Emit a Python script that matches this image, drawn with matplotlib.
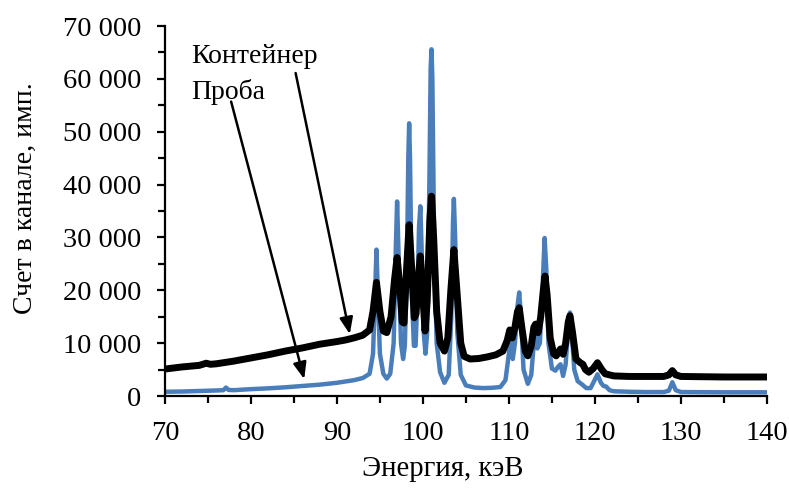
import matplotlib
matplotlib.use("Agg")
import matplotlib.pyplot as plt
from matplotlib.ticker import FuncFormatter, MultipleLocator

# sample spectrum (Проба)
probe_e = [70, 72, 74, 76, 76.8, 77.1, 77.4, 78, 80, 82, 84, 86, 88, 90, 92, 93, 93.8,
           94.2, 94.45, 94.6, 94.75, 95.0, 95.4, 95.8, 96.2, 96.6, 96.85, 97.0, 97.15,
           97.45, 97.7, 97.9, 98.15, 98.3, 98.4, 98.5, 98.7, 98.95, 99.15, 99.35, 99.55,
           99.7, 99.85, 100.1, 100.3, 100.5, 100.75, 100.9, 101.0, 101.1, 101.3, 101.6,
           102.0, 102.5, 103.0, 103.3, 103.5, 103.6, 103.75, 104.0, 104.4, 105, 106, 107,
           108, 109, 109.6, 110.0, 110.2, 110.45, 110.7, 111.0, 111.2, 111.4, 111.7, 112.2,
           112.6, 112.9, 113.1, 113.3, 113.6, 113.9, 114.15, 114.35, 114.6, 115.0, 115.4,
           115.7, 116.0, 116.3, 116.6, 116.9, 117.1, 117.3, 117.6, 118.0, 118.5, 119.0,
           119.5, 119.9, 120.3, 120.7, 121.0, 121.3, 121.7, 122.2, 124, 126, 128, 128.6,
           129.0, 129.4, 130, 135, 140]
probe_n = [800, 850, 950, 1050, 1100, 1600, 1150, 1100, 1300, 1450, 1650, 1900, 2150, 2500,
           3000, 3400, 4200, 8000, 20000, 27700, 20000, 8000, 4200, 3300, 4200, 10000, 28000,
           36800, 28000, 10000, 7000, 9500, 25000, 45000, 51600, 45000, 20000, 9500, 9500,
           18000, 32000, 35900, 28000, 12000, 8000, 12000, 40000, 62000, 65600, 60000, 30000,
           10000, 4500, 2500, 4000, 15000, 33000, 37300, 30000, 12000, 4000, 2000, 1600, 1500,
           1550, 1700, 3000, 8000, 11000, 7000, 10000, 17000, 19600, 15000, 5000, 2300, 4000,
           10000, 12600, 9000, 10000, 20000, 29900, 24000, 10000, 5200, 4800, 5500, 6000,
           3800, 6000, 13000, 15800, 12000, 5000, 2800, 2200, 1500, 1500, 2800, 4100, 2500,
           1900, 1800, 1100, 900, 800, 750, 750, 1000, 2600, 1100, 750, 700, 700]

# container spectrum (Контейнер)
cont_e = [70, 72, 74, 74.8, 75.3, 76, 78, 80, 82, 84, 86, 88, 90, 91, 92, 93, 93.8, 94.2,
          94.6, 95.0, 95.4, 95.8, 96.3, 96.7, 97.0, 97.3, 97.6, 97.8, 98.1, 98.4, 98.7,
          99.0, 99.2, 99.45, 99.7, 99.95, 100.25, 100.5, 100.8, 101.0, 101.25, 101.6, 102.0,
          102.5, 102.9, 103.25, 103.6, 103.95, 104.4, 104.8, 105.5, 106.5, 107.5, 108.5,
          109.3, 109.8, 110.1, 110.4, 110.7, 111.0, 111.2, 111.5, 111.9, 112.2, 112.6, 112.9,
          113.1, 113.4, 113.7, 114.0, 114.2, 114.45, 114.8, 115.2, 115.5, 115.8, 116.0, 116.3,
          116.6, 116.9, 117.1, 117.4, 117.8, 118.3, 118.6, 118.9, 119.3, 119.8, 120.3, 120.8,
          121.2, 121.7, 122.2, 124, 126, 128, 128.6, 129.0, 129.4, 130, 135, 140]
cont_n = [5100, 5500, 5800, 6200, 6000, 6100, 6600, 7200, 7800, 8500, 9100, 9800, 10300,
          10600, 11000, 11500, 12500, 16000, 21500, 16000, 12300, 12000, 15000, 22000, 26200,
          21000, 14000, 13800, 24000, 32400, 24000, 14800, 15500, 22000, 26500, 20000, 12300,
          18000, 33000, 37800, 30000, 16000, 10000, 8500, 11000, 20000, 27700, 20000, 10000,
          7500, 7000, 7100, 7400, 7800, 8500, 10500, 12500, 11000, 13000, 16000, 16700, 13000,
          8500, 7600, 9500, 13000, 13600, 12000, 15000, 20000, 22700, 19000, 11000, 8000,
          7600, 8400, 8900, 7900, 10000, 14000, 15200, 12000, 7000, 6300, 6000, 5000, 4500,
          5200, 6300, 5000, 4200, 4000, 3800, 3700, 3700, 3700, 4000, 4800, 4000, 3700, 3600,
          3600]

plt.rcParams['font.family'] = ['Liberation Serif', 'DejaVu Serif']

fig = plt.figure(figsize=(7.89, 4.88), dpi=100)
ax = fig.add_axes([0.209, 0.1885, 0.763, 0.7582])

ax.plot(probe_e, probe_n, color='#4a7ebb', lw=3.2, zorder=2, solid_joinstyle='round')
ax.plot(cont_e, cont_n, color='black', lw=5, zorder=3, solid_joinstyle='round')

ax.set_xlim(70, 140)
ax.set_ylim(0, 70000)
ax.xaxis.set_major_locator(MultipleLocator(10))
ax.xaxis.set_minor_locator(MultipleLocator(5))
ax.yaxis.set_major_locator(MultipleLocator(10000))
ax.yaxis.set_minor_locator(MultipleLocator(5000))
ax.yaxis.set_major_formatter(FuncFormatter(lambda v, p: f"{int(v):,}".replace(",", " ")))

for s in ['top', 'right']:
    ax.spines[s].set_visible(False)
for s in ['left', 'bottom']:
    ax.spines[s].set_linewidth(1.6)

ax.tick_params(which='major', direction='out', length=6, width=1.6, labelsize=20.5)
ax.tick_params(which='minor', direction='out', length=5, width=1.6)
ax.tick_params(axis='y', which='major', pad=11)
ax.tick_params(axis='x', which='major', pad=12)

ax.set_xlabel('Энергия, кэВ', fontsize=20.7)
ax.set_ylabel('Счет в канале, имп.', fontsize=20)
ax.xaxis.set_label_coords(0.461, -0.162)
ax.yaxis.set_label_coords(-0.211, 0.535)

ax.text(73.1, 64200, 'Контейнер', fontsize=20, va='center', ha='left')
ax.text(73.1, 57600, 'Проба', fontsize=20, va='center', ha='left')

arrow = dict(arrowstyle='-|>,head_length=1.0,head_width=0.4', color='black', lw=1.8,
             shrinkA=0, shrinkB=0)
ax.annotate('', xy=(91.5, 11700), xytext=(85.2, 61100), arrowprops=arrow)
ax.annotate('', xy=(86.2, 3200), xytext=(77.7, 55700), arrowprops=arrow)

fig.savefig('out.png', dpi=100)
